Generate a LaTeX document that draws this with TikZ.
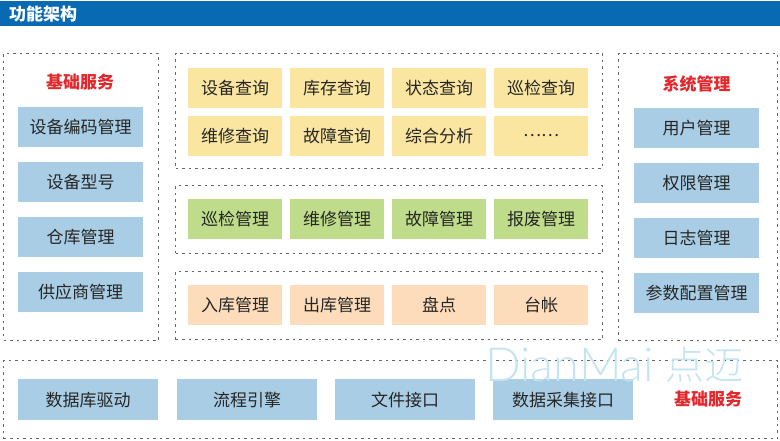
\documentclass[tikz,border=0pt]{standalone}
\usepackage{fontspec}
\setmainfont{Noto Sans CJK SC}
\newfontfamily\markfont{Lato Light}
\newfontfamily\markcjk{Noto Sans CJK SC Light}
\usepackage{xcolor}
\usepackage{tikz}
\usetikzlibrary{positioning}
\definecolor{header}{RGB}{8, 106, 178}
\definecolor{basic}{RGB}{168, 205, 228}
\definecolor{query}{RGB}{250, 230, 160}
\definecolor{manage}{RGB}{190, 220, 138}
\definecolor{stock}{RGB}{252, 220, 186}
\definecolor{mark}{RGB}{196, 228, 242}
\definecolor{titlered}{RGB}{226, 40, 44}
\tikzstyle{panel} = [rectangle, anchor=north west, draw=black!60, line width=1pt, dash pattern=on 2.5pt off 4pt]
\tikzstyle{func} = [rectangle, anchor=north west, inner sep=0pt, minimum height=40pt, text=black!85, font=\fontsize{17}{20}\selectfont]
\tikzstyle{basicbox} = [func, fill=basic, minimum width=125pt]
\tikzstyle{busbox} = [func, fill=basic, minimum width=140pt, minimum height=41pt]
\tikzstyle{querybox} = [func, fill=query, minimum width=94pt]
\tikzstyle{managebox} = [func, fill=manage, minimum width=94pt]
\tikzstyle{stockbox} = [func, fill=stock, minimum width=94pt]
\tikzstyle{grouptitle} = [text=titlered, font=\fontsize{17}{20}\selectfont\bfseries]

\begin{document}
\begin{tikzpicture}[x=1pt, y=1pt, node distance=15pt]

\useasboundingbox (0,0) rectangle (780,-441);

% Title bar
\node[rectangle, anchor=north west, fill=header, minimum width=780pt, minimum height=25pt, inner sep=0pt] (title_bar) at (0,-1) {};
\node[right=9pt of title_bar.west, inner sep=0pt, text=white, font=\fontsize{17}{20}\selectfont\bfseries] (title_text) {功能架构};

% Dashed panels
\node[panel, minimum width=155pt, minimum height=287pt] (left_panel) at (3,-53) {};
\node[panel, minimum width=427pt, minimum height=115pt] (query_panel) at (175,-53) {};
\node[panel, minimum width=427pt, minimum height=68pt] (manage_panel) at (175,-185) {};
\node[panel, minimum width=427pt, minimum height=68pt] (stock_panel) at (175,-271) {};
\node[panel, minimum width=159pt, minimum height=287pt] (right_panel) at (618,-53) {};
\node[panel, minimum width=774pt, minimum height=78pt] (bus_panel) at (3,-360) {};

% Left column
\node[grouptitle] (left_title) at (80,-82) {基础服务};
\node[basicbox] (code_box) at (18,-107) {设备编码管理};
\node[basicbox, below=14.6pt of code_box] (type_box) {设备型号};
\node[basicbox, below=14.6pt of type_box] (store_box) {仓库管理};
\node[basicbox, below=14.6pt of store_box] (supply_box) {供应商管理};

% Query boxes
\node[querybox] (q1_box) at (188,-68) {设备查询};
\node[querybox, right=7.6pt of q1_box] (q2_box) {库存查询};
\node[querybox, right=7.6pt of q2_box] (q3_box) {状态查询};
\node[querybox, right=7.6pt of q3_box] (q4_box) {巡检查询};
\node[querybox, below=7pt of q1_box] (q5_box) {维修查询};
\node[querybox, right=7.6pt of q5_box] (q6_box) {故障查询};
\node[querybox, right=7.6pt of q6_box] (q7_box) {综合分析};
\node[querybox, right=7.6pt of q7_box] (q8_box) {……};

% Manage boxes
\node[managebox] (m1_box) at (188,-199) {巡检管理};
\node[managebox, right=7.6pt of m1_box] (m2_box) {维修管理};
\node[managebox, right=7.6pt of m2_box] (m3_box) {故障管理};
\node[managebox, right=7.6pt of m3_box] (m4_box) {报废管理};

% Stock boxes
\node[stockbox] (s1_box) at (188,-285) {入库管理};
\node[stockbox, right=7.6pt of s1_box] (s2_box) {出库管理};
\node[stockbox, right=7.6pt of s2_box] (s3_box) {盘点};
\node[stockbox, right=7.6pt of s3_box] (s4_box) {台帐};

% Right column
\node[grouptitle] (right_title) at (696.5,-84) {系统管理};
\node[basicbox] (user_box) at (634,-108) {用户管理};
\node[basicbox, below=14.6pt of user_box] (auth_box) {权限管理};
\node[basicbox, below=14.6pt of auth_box] (log_box) {日志管理};
\node[basicbox, below=14.6pt of log_box] (param_box) {参数配置管理};

% Bottom row
\node[busbox] (db_box) at (18,-379) {数据库驱动};
\node[busbox, right=18.5pt of db_box] (flow_box) {流程引擎};
\node[busbox, right=17.6pt of flow_box] (file_box) {文件接口};
\node[busbox, right=17.6pt of file_box] (collect_box) {数据采集接口};
\node[grouptitle] (bus_title) at (708,-399) {基础服务};

% Watermark
\node[anchor=west, inner sep=0pt, text=mark, font=\fontsize{47}{50}\selectfont] (mark_text) at (485,-365) {\markfont DianMai};
\node[anchor=east, inner sep=0pt, text=mark, font=\fontsize{39}{44}\selectfont] (mark_cjk) at (744,-365) {\markcjk 点迈};

\end{tikzpicture}
\end{document}
